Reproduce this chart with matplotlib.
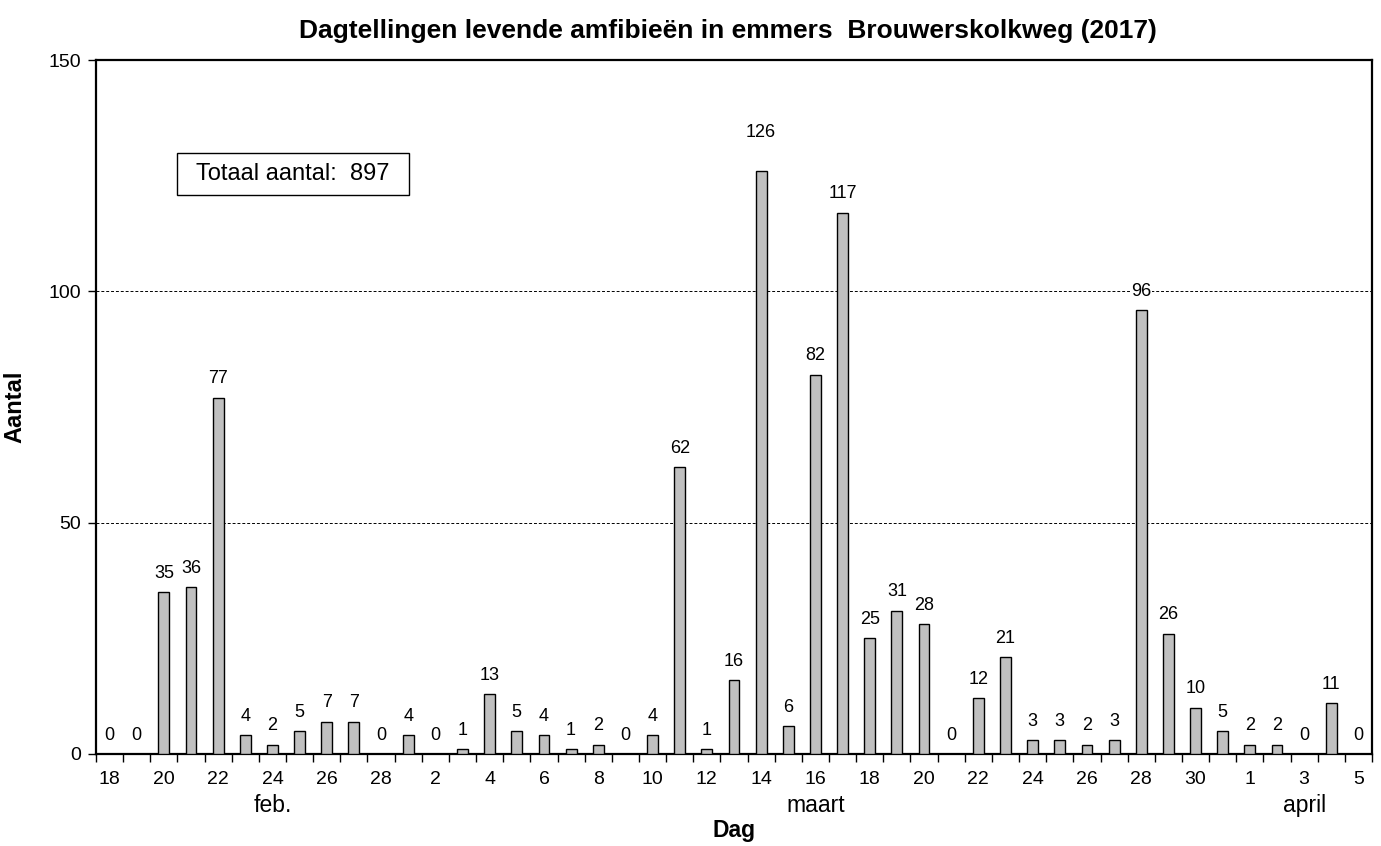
import matplotlib
matplotlib.use("Agg")
import matplotlib.pyplot as plt
import matplotlib.transforms as mtransforms
from matplotlib.patches import Rectangle
import numpy as np

plt.rcParams['font.family'] = ['Liberation Sans', 'DejaVu Sans']

day_labels = ["18", "19", "20", "21", "22", "23", "24", "25", "26", "27", "28",
              "1", "2", "3", "4", "5", "6", "7", "8", "9", "10", "11", "12", "13", "14", "15",
              "16", "17", "18", "19", "20", "21", "22", "23", "24", "25", "26", "27", "28",
              "29", "30", "31",
              "1", "2", "3", "4", "5"]
counts = [0, 0, 35, 36, 77, 4, 2, 5, 7, 7, 0,
          4, 0, 1, 13, 5, 4, 1, 2, 0, 4, 62, 1, 16, 126, 6, 82, 117, 25, 31, 28,
          0, 12, 21, 3, 3, 2, 3, 96, 26, 10, 5,
          2, 2, 0, 11, 0]
month_names = ["feb.", "maart", "april"]
month_label_pos = [6, 26, 44]
total = sum(counts)

W, H = 1381, 846
fig = plt.figure(figsize=(W / 100, H / 100), dpi=100)
ax = fig.add_axes([96 / W, 1 - 754 / H, 1276 / W, 694 / H])

x = np.arange(len(counts))
ax.bar(x, counts, width=0.4, color="#c0c0c0", edgecolor="black", linewidth=1.0, zorder=3)

ax.set_xlim(-0.5, len(counts) - 0.5)
ax.set_ylim(0, 150)
ax.set_yticks([0, 50, 100, 150])
ax.tick_params(axis="y", direction="out", length=6, width=1, labelsize=14, pad=5)
ax.set_xticks(x[::2])
ax.set_xticklabels(day_labels[::2])
ax.tick_params(axis="x", which="major", length=0, labelsize=14, pad=12)
ax.set_xticks(np.arange(-0.5, len(counts), 1), minor=True)
ax.tick_params(axis="x", which="minor", direction="out", length=6, width=1)

for s in ax.spines.values():
    s.set_linewidth(1.6)
    s.set_color("black")

for yv in [50, 100]:
    ax.axhline(yv, color="black", linestyle=(0, (3, 2)), linewidth=0.7, zorder=1)

extra = {24: 14}
for xi, v in zip(x, counts):
    ax.annotate(str(v), (xi, v), xytext=(0, 13.5 + extra.get(int(xi), 0)),
                textcoords="offset points", ha="center", va="center",
                fontsize=13, zorder=4,
                bbox=dict(facecolor="white", edgecolor="none", pad=0.5))

trans = mtransforms.blended_transform_factory(ax.transData, ax.transAxes)
for name, pos in zip(month_names, month_label_pos):
    ax.text(pos, -0.074, name, transform=trans, ha="center", va="center", fontsize=16.5)

ax.set_xlabel("Dag", fontsize=16.5, fontweight="bold", va="center")
ax.xaxis.set_label_coords(0.5, -(830 - 754) / 694)
ax.set_ylabel("Aantal", fontsize=17, fontweight="bold")
ax.yaxis.set_label_coords(-0.0545, 0.5)

fig.suptitle("Dagtellingen levende amfibieën in emmers  Brouwerskolkweg (2017)",
             fontsize=19, fontweight="bold", x=728 / W, y=1 - 31 / H, va="center")

rect = Rectangle((177 / W, 1 - 195 / H), 232 / W, 42 / H, transform=fig.transFigure,
                 facecolor="white", edgecolor="black", linewidth=1.0, zorder=5)
fig.add_artist(rect)
fig.text(293 / W, 1 - 174 / H, f"Totaal aantal:  {total}", fontsize=17,
         ha="center", va="center", zorder=6)

fig.savefig("out.png", dpi=100)
